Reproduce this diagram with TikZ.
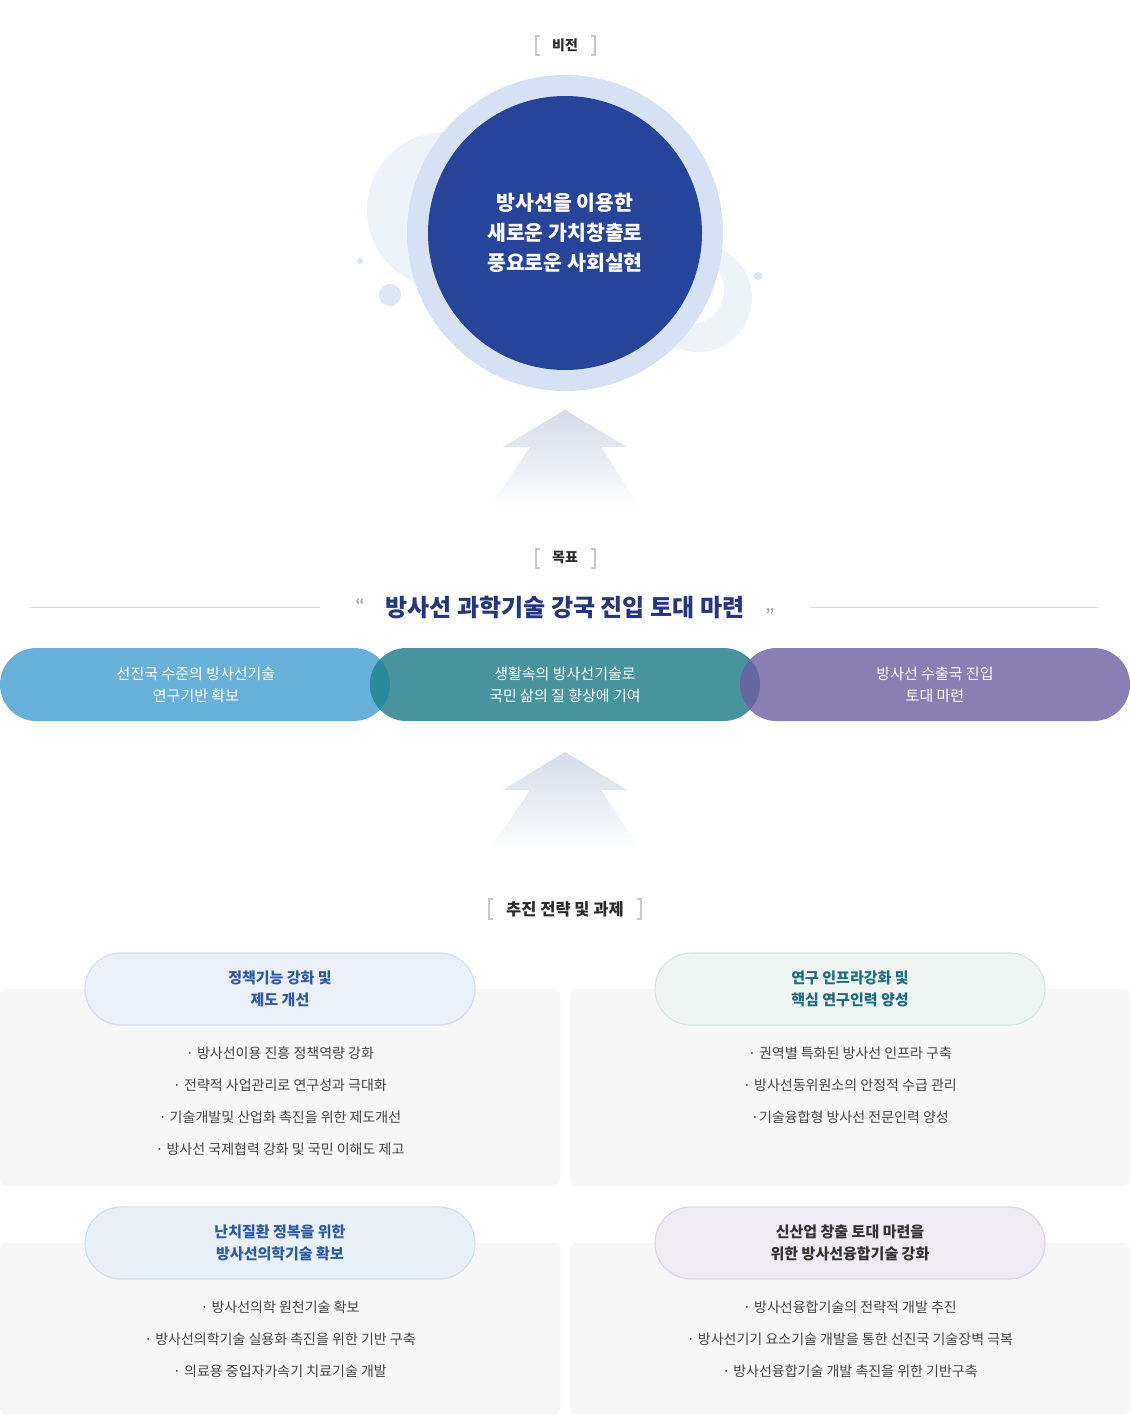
\documentclass[tikz,border=0pt]{standalone}
\usepackage{fontspec}
\setmainfont{Noto Sans CJK KR}
\definecolor{ringc}{HTML}{D6E2F3}
\definecolor{darkc}{HTML}{27449B}
\definecolor{decoc}{HTML}{EEF3FA}
\definecolor{dotc}{HTML}{DCE6F4}
\definecolor{brkc}{HTML}{C8C8C8}
\definecolor{lblc}{HTML}{2B2B2B}
\definecolor{navy}{HTML}{24367F}
\definecolor{pblue}{HTML}{67B0DA}
\definecolor{pteal}{HTML}{47949F}
\definecolor{ppurp}{HTML}{8A7FB5}
\definecolor{ov1}{HTML}{2B8A9C}
\definecolor{ov2}{HTML}{6668A2}
\definecolor{arrowtop}{HTML}{D5DCE8}
\definecolor{boxbg}{HTML}{F7F7F7}
\definecolor{txtc}{HTML}{444444}
\definecolor{h1fill}{HTML}{EBF0F9}\definecolor{h1draw}{HTML}{D5DFF1}\definecolor{h1text}{HTML}{2D5AA8}
\definecolor{h2fill}{HTML}{EEF5F3}\definecolor{h2draw}{HTML}{D3E9E4}\definecolor{h2text}{HTML}{1C6D7D}
\definecolor{h3fill}{HTML}{E9F1F6}\definecolor{h3draw}{HTML}{D0E2EC}\definecolor{h3text}{HTML}{2D5AA8}
\definecolor{h4fill}{HTML}{EEEBF5}\definecolor{h4draw}{HTML}{DCD7EC}\definecolor{h4text}{HTML}{333333}
\begin{document}
\begin{tikzpicture}[x=1pt,y=-1pt,
  brk/.style={draw=brkc,line width=1.4pt},
  lbl/.style={text=lblc,font=\fontsize{14}{16}\selectfont\bfseries,inner sep=0pt},
  pilltxt/.style={text=white,align=center,font=\fontsize{15}{22}\selectfont},
  gpill/.style={minimum width=390pt,minimum height=73pt,rounded corners=36.5pt,inner sep=0pt,outer sep=0pt},
  hdr/.style={minimum width=390pt,minimum height=72pt,rounded corners=36pt,line width=1.2pt,align=center,inner sep=0pt,font=\fontsize{15}{22}\selectfont\bfseries},
  item/.style={text=txtc,font=\fontsize{14}{16}\selectfont,inner sep=0pt},
]
\useasboundingbox (0,0) rectangle (1130,1416);
\fill[white] (0,0) rectangle (1130,1416);

% ---- vision label
\node[lbl] (vlbl) at (565,45) {비전};
\draw[brk] (540,36) -- (536,36) -- (536,55) -- (540,55);
\draw[brk] (591,36) -- (595,36) -- (595,55) -- (591,55);

% ---- decorations
\fill[decoc] (445,210) circle (78);
\fill[decoc] (698,298) circle (54);
\fill[white] (690,290) circle (34);
\fill[dotc] (360,261) circle (3);
\fill[dotc] (390,295) circle (11);
\fill[dotc] (758,276) circle (4);

% ---- vision circle
\fill[ringc] (565,233) circle (158);
\node[circle,fill=darkc,minimum size=274pt,inner sep=0pt,text=white,align=center,
  font=\fontsize{20.5}{30}\selectfont\bfseries] (vis) at (565,233)
  {방사선을 이용한\\새로운 가치창출로\\풍요로운 사회실현};

% ---- arrow 1
\shade[top color=arrowtop,bottom color=white,middle color=arrowtop!55!white]
  (565,410) -- (627,447) -- (601,447) -- (640,507) -- (490,507) -- (530,447) -- (503,447) -- cycle;

% ---- goal label
\node[lbl] (glbl) at (565,558) {목표};
\draw[brk] (540,549) -- (536,549) -- (536,568) -- (540,568);
\draw[brk] (591,549) -- (595,549) -- (595,568) -- (591,568);

% ---- headline
\node[text=navy,font=\fontsize{24}{28}\selectfont\bfseries,inner sep=0pt] (head) at (565,607) {방사선 과학기술 강국 진입 토대 마련};
\node[text=gray!70,font=\fontsize{14}{14}\selectfont\bfseries,inner sep=0pt] (q1) at (360,604) {“};
\node[text=gray!70,font=\fontsize{14}{14}\selectfont\bfseries,inner sep=0pt] (q2) at (770,614) {”};
\draw[draw=gray!30,line width=0.8pt] (30,607) -- (320,607);
\draw[draw=gray!30,line width=0.8pt] (810,607) -- (1098,607);

% ---- goal pills
\node[gpill,fill=pblue] (g1) at (195,684.5) {};
\node[gpill,fill=pteal] (g2) at (565,684.5) {};
\begin{scope}
  \clip[rounded corners=36.5pt] (g1.south west) rectangle (g1.north east);
  \fill[ov1,rounded corners=36.5pt] (g2.south west) rectangle (g2.north east);
\end{scope}
\node[gpill,fill=ppurp] (g3) at (935,684.5) {};
\begin{scope}
  \clip[rounded corners=36.5pt] (g2.south west) rectangle (g2.north east);
  \fill[ov2,rounded corners=36.5pt] (g3.south west) rectangle (g3.north east);
\end{scope}
\node[pilltxt] (t1) at (196,684.5) {선진국 수준의 방사선기술\\연구기반 확보};
\node[pilltxt] (t2) at (565,684.5) {생활속의 방사선기술로\\국민 삶의 질 향상에 기여};
\node[pilltxt] (t3) at (935,684.5) {방사선 수출국 진입\\토대 마련};

% ---- arrow 2
\shade[top color=arrowtop,bottom color=white,middle color=arrowtop!55!white]
  (565,752) -- (627,790) -- (601,790) -- (640,850) -- (490,850) -- (530,790) -- (503,790) -- cycle;

% ---- strategy label
\node[text=lblc,font=\fontsize{16.5}{18}\selectfont\bfseries,inner sep=0pt] (slbl) at (565,909) {추진 전략 및 과제};
\draw[brk] (493,899) -- (489,899) -- (489,919) -- (493,919);
\draw[brk] (637,899) -- (641,899) -- (641,919) -- (637,919);

% ---- strategy boxes
\fill[boxbg,rounded corners=6pt] (0,989) rectangle (560,1186);
\fill[boxbg,rounded corners=6pt] (570,989) rectangle (1130,1186);
\fill[boxbg,rounded corners=6pt] (0,1243) rectangle (560,1414);
\fill[boxbg,rounded corners=6pt] (570,1243) rectangle (1130,1414);

\node[hdr,fill=h1fill,draw=h1draw,text=h1text] (s1) at (280,989) {정책기능 강화 및\\제도 개선};
\node[hdr,fill=h2fill,draw=h2draw,text=h2text] (s2) at (850,989) {연구 인프라강화 및\\핵심 연구인력 양성};
\node[hdr,fill=h3fill,draw=h3draw,text=h3text] (s3) at (280,1243) {난치질환 정복을 위한\\방사선의학기술 확보};
\node[hdr,fill=h4fill,draw=h4draw,text=h4text] (s4) at (850,1243) {신산업 창출 토대 마련을\\위한 방사선융합기술 강화};

\node[item] (a1) at (280,1053) {· 방사선이용 진흥 정책역량 강화};
\node[item] (a2) at (280,1085) {· 전략적 사업관리로 연구성과 극대화};
\node[item] (a3) at (280,1117) {· 기술개발및 산업화 촉진을 위한 제도개선};
\node[item] (a4) at (280,1149) {· 방사선 국제협력 강화 및 국민 이해도 제고};

\node[item] (b1) at (850,1053) {· 권역별 특화된 방사선 인프라 구축};
\node[item] (b2) at (850,1085) {· 방사선동위원소의 안정적 수급 관리};
\node[item] (b3) at (850,1117) {·기술융합형 방사선 전문인력 양성};

\node[item] (c1) at (280,1307) {· 방사선의학 원천기술 확보};
\node[item] (c2) at (280,1339) {· 방사선의학기술 실용화 촉진을 위한 기반 구축};
\node[item] (c3) at (280,1371) {· 의료용 중입자가속기 치료기술 개발};

\node[item] (d1) at (850,1307) {· 방사선융합기술의 전략적 개발 추진};
\node[item] (d2) at (850,1339) {· 방사선기기 요소기술 개발을 통한 선진국 기술장벽 극복};
\node[item] (d3) at (850,1371) {· 방사선융합기술 개발 촉진을 위한 기반구축};
\end{tikzpicture}
\end{document}
